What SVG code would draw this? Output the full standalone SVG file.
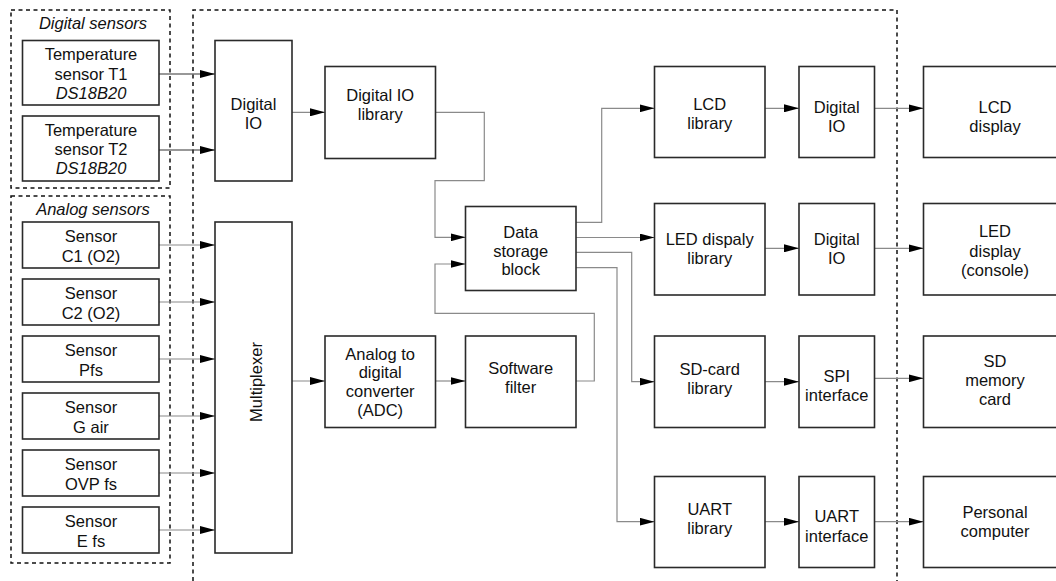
<svg xmlns="http://www.w3.org/2000/svg" width="1056" height="581" viewBox="0 0 1056 581">
  <style>
    .box { fill: #ffffff; stroke: #2a2a2a; stroke-width: 1.6; }
    .grp { fill: none; stroke: #111111; stroke-width: 1.5; stroke-dasharray: 4 3.5; }
    .wire { fill: none; stroke: #8a8a8a; stroke-width: 1.2; marker-end: url(#arrow); }
    .wire.dark { stroke: #333333; }
    text { font-family: "Liberation Sans", Arial, sans-serif; font-size: 16.5px; fill: #111111; text-anchor: middle; }
    .it { font-style: italic; }
  </style>
  <defs>
    <marker id="arrow" markerUnits="userSpaceOnUse" markerWidth="15" markerHeight="8" refX="15" refY="4" orient="auto">
      <path d="M0,0 L15,4 L0,8 Z" fill="#000000"/>
    </marker>
  </defs>

  <rect width="1056" height="581" fill="#ffffff"/>

  <!-- grouping frames -->
  <g id="frames">
    <rect class="grp" x="11" y="10" width="159" height="178"/>
    <rect class="grp" x="11" y="196" width="159" height="367"/>
    <path class="grp" d="M193,581 V10 H897 V581"/>
    <text class="it" x="93" y="28.5">Digital sensors</text>
    <text class="it" x="93" y="215">Analog sensors</text>
  </g>

  <!-- connectors -->
  <g id="connectors">
    <path class="wire dark" d="M159,74 H215"/>
    <path class="wire dark" d="M159,150 H215"/>
    <path class="wire" d="M159,245 H215"/>
    <path class="wire" d="M159,302 H215"/>
    <path class="wire" d="M159,359 H215"/>
    <path class="wire" d="M159,416 H215"/>
    <path class="wire" d="M159,473 H215"/>
    <path class="wire" d="M159,530 H215"/>
    <path class="wire" d="M292,112.3 H325"/>
    <path class="wire" d="M435.5,112.3 H484.3 V180.7 H435 V237.3 H465.5"/>
    <path class="wire" d="M292,381 H325"/>
    <path class="wire" d="M435.5,381 H465.5"/>
    <path class="wire" d="M576,381 H594.3 V313.3 H435 V264 H465.5"/>
    <path class="wire" d="M576,222.3 H601.7 V108.3 H654.5"/>
    <path class="wire" d="M576,237.5 H654.5"/>
    <path class="wire" d="M576,252.3 H631.7 V381.7 H654.5"/>
    <path class="wire" d="M576,267.7 H617 V521.7 H654.5"/>
    <path class="wire" d="M765,108.3 H799"/>
    <path class="wire" d="M874.5,108.3 H923.5"/>
    <path class="wire" d="M765,248.3 H799"/>
    <path class="wire" d="M874.5,248.3 H923.5"/>
    <path class="wire" d="M765,381.7 H799"/>
    <path class="wire" d="M874.5,378.3 H923.5"/>
    <path class="wire" d="M765,521.7 H799"/>
    <path class="wire" d="M874.5,521.7 H923.5"/>
  </g>

  <!-- digital sensors -->
  <g id="temp-t1">
    <rect class="box" x="22.5" y="40.5" width="136.5" height="64.5"/>
    <text x="91" y="60.3">Temperature</text>
    <text x="91" y="79.5">sensor T1</text>
    <text class="it" x="91" y="99.3">DS18B20</text>
  </g>
  <g id="temp-t2">
    <rect class="box" x="22.5" y="116" width="136.5" height="65"/>
    <text x="91" y="135.5">Temperature</text>
    <text x="91" y="154.7">sensor T2</text>
    <text class="it" x="91" y="174">DS18B20</text>
  </g>

  <!-- analog sensors -->
  <g id="sensor-c1">
    <rect class="box" x="22.5" y="222" width="136.5" height="46"/>
    <text x="91" y="241.7">Sensor</text>
    <text x="91" y="261.7">C1 (O2)</text>
  </g>
  <g id="sensor-c2">
    <rect class="box" x="22.5" y="279" width="136.5" height="46"/>
    <text x="91" y="298.7">Sensor</text>
    <text x="91" y="318.7">C2 (O2)</text>
  </g>
  <g id="sensor-pfs">
    <rect class="box" x="22.5" y="336" width="136.5" height="46"/>
    <text x="91" y="355.7">Sensor</text>
    <text x="91" y="375.7">Pfs</text>
  </g>
  <g id="sensor-gair">
    <rect class="box" x="22.5" y="393" width="136.5" height="46"/>
    <text x="91" y="412.7">Sensor</text>
    <text x="91" y="432.7">G air</text>
  </g>
  <g id="sensor-ovp">
    <rect class="box" x="22.5" y="450" width="136.5" height="46"/>
    <text x="91" y="469.7">Sensor</text>
    <text x="91" y="489.7">OVP fs</text>
  </g>
  <g id="sensor-efs">
    <rect class="box" x="22.5" y="507" width="136.5" height="46"/>
    <text x="91" y="526.7">Sensor</text>
    <text x="91" y="546.7">E fs</text>
  </g>

  <!-- input stage -->
  <g id="digital-io-in">
    <rect class="box" x="215" y="40.5" width="77" height="140.5"/>
    <text x="253.5" y="110">Digital</text>
    <text x="253.5" y="128.5">IO</text>
  </g>
  <g id="multiplexer">
    <rect class="box" x="215" y="222" width="77" height="331"/>
    <text transform="translate(261.5,382) rotate(-90)">Multiplexer</text>
  </g>
  <g id="digital-io-library">
    <rect class="box" x="325" y="66.5" width="110.5" height="92"/>
    <text x="380.2" y="100.7">Digital IO</text>
    <text x="380.2" y="120">library</text>
  </g>
  <g id="adc">
    <rect class="box" x="325" y="336" width="110.5" height="91.5"/>
    <text x="380.2" y="359.5">Analog to</text>
    <text x="380.2" y="378.3">digital</text>
    <text x="380.2" y="397">converter</text>
    <text x="380.2" y="415.7">(ADC)</text>
  </g>
  <g id="software-filter">
    <rect class="box" x="465.5" y="336" width="110.5" height="91.5"/>
    <text x="520.7" y="374">Software</text>
    <text x="520.7" y="393.3">filter</text>
  </g>
  <g id="data-storage">
    <rect class="box" x="465.5" y="206.5" width="110.5" height="84"/>
    <text x="520.7" y="238.3">Data</text>
    <text x="520.7" y="256.8">storage</text>
    <text x="520.7" y="275.4">block</text>
  </g>

  <!-- output libraries -->
  <g id="lcd-library">
    <rect class="box" x="654.5" y="66.5" width="110.5" height="91"/>
    <text x="709.7" y="110">LCD</text>
    <text x="709.7" y="129">library</text>
  </g>
  <g id="led-library">
    <rect class="box" x="654.5" y="203.5" width="110.5" height="91.5"/>
    <text x="709.7" y="245">LED dispaly</text>
    <text x="709.7" y="264">library</text>
  </g>
  <g id="sd-library">
    <rect class="box" x="654.5" y="336" width="110.5" height="91.5"/>
    <text x="709.7" y="375">SD-card</text>
    <text x="709.7" y="393.7">library</text>
  </g>
  <g id="uart-library">
    <rect class="box" x="654.5" y="476.5" width="110.5" height="91"/>
    <text x="709.7" y="515">UART</text>
    <text x="709.7" y="534.3">library</text>
  </g>

  <!-- hardware interfaces -->
  <g id="digital-io-lcd">
    <rect class="box" x="799" y="66.5" width="75.5" height="91"/>
    <text x="836.7" y="113.3">Digital</text>
    <text x="836.7" y="132">IO</text>
  </g>
  <g id="digital-io-led">
    <rect class="box" x="799" y="203.5" width="75.5" height="91.5"/>
    <text x="836.7" y="245">Digital</text>
    <text x="836.7" y="264">IO</text>
  </g>
  <g id="spi-interface">
    <rect class="box" x="799" y="336" width="75.5" height="91.5"/>
    <text x="836.7" y="382.3">SPI</text>
    <text x="836.7" y="400.7">interface</text>
  </g>
  <g id="uart-interface">
    <rect class="box" x="799" y="476.5" width="75.5" height="91"/>
    <text x="836.7" y="522.3">UART</text>
    <text x="836.7" y="541.7">interface</text>
  </g>

  <!-- external devices -->
  <g id="lcd-display">
    <rect class="box" x="923.5" y="66.5" width="145" height="91"/>
    <text x="995" y="112.7">LCD</text>
    <text x="995" y="131.7">display</text>
  </g>
  <g id="led-display">
    <rect class="box" x="923.5" y="203.5" width="145" height="91.5"/>
    <text x="995" y="237.3">LED</text>
    <text x="995" y="256.7">display</text>
    <text x="995" y="276">(console)</text>
  </g>
  <g id="sd-card">
    <rect class="box" x="923.5" y="336" width="145" height="91.5"/>
    <text x="995" y="366.7">SD</text>
    <text x="995" y="385.7">memory</text>
    <text x="995" y="405">card</text>
  </g>
  <g id="personal-computer">
    <rect class="box" x="923.5" y="476.5" width="145" height="91"/>
    <text x="995" y="518.3">Personal</text>
    <text x="995" y="537.3">computer</text>
  </g>
</svg>
